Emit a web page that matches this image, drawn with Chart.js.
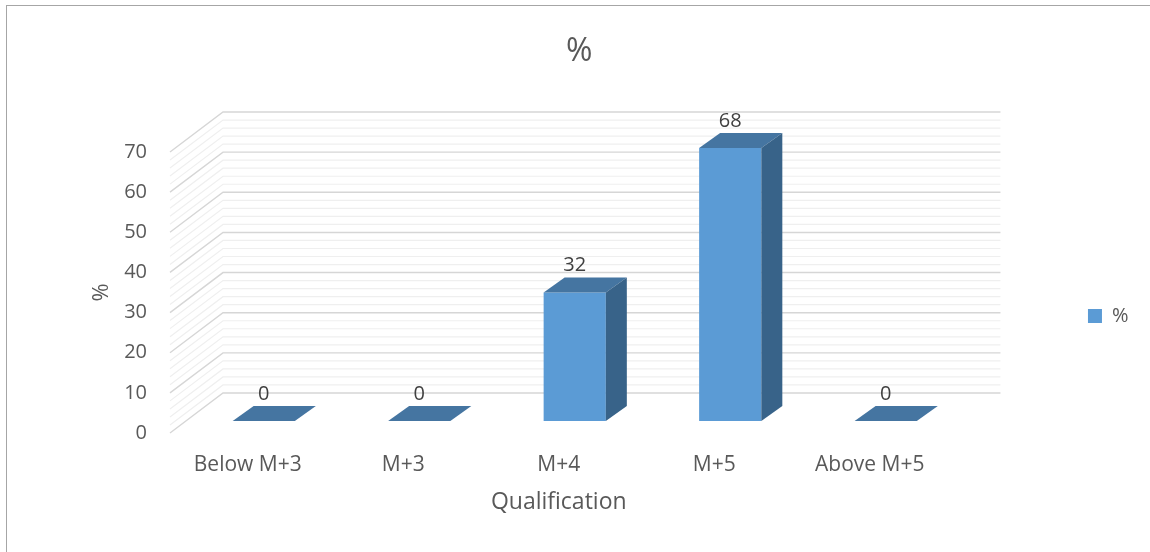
<!DOCTYPE html>
<html>
<head>
<meta charset="utf-8">
<title>Qualification</title>
<script src="https://cdn.jsdelivr.net/npm/chart.js@4.4.1/dist/chart.umd.min.js"></script>
<style>
  html, body { margin: 0; padding: 0; background: #fff; overflow: hidden; }
  #wrap { position: relative; width: 1150px; height: 552px; }
  #qualChart { position: absolute; left: 0; top: 0; }
  #frame {
    position: absolute; left: 6px; top: 5px; width: 1200px; height: 600px;
    border-top: 1.5px solid #a6a6a6; border-left: 1.5px solid #a6a6a6;
    pointer-events: none;
  }
</style>
</head>
<body>
<div id="wrap">
  <canvas id="qualChart" width="1150" height="552"></canvas>
  <div id="frame"></div>
</div>
<script>
const qualifications = ['Below M+3', 'M+3', 'M+4', 'M+5', 'Above M+5'];
const percentValues = [0, 0, 32, 68, 0];
const seriesName = '%';
const yMin = 0;
const yMax = 70;
const yStep = 10;
const yMinorStep = 2;

const FONT = "'Open Sans', 'DejaVu Sans', sans-serif";
const TEXT = '#595959';

// oblique projection of the 3D box
const WALL_DX = 53, WALL_DY = -40;    // back wall, from the axis plane
const BAR_DX = 16, BAR_DY = -12;      // row of bars, from the axis plane
const DEPTH_DX = 21, DEPTH_DY = -15;  // depth of one bar

const FRONT = '#5b9bd5';
const TOP = '#4575a1';
const SIDE = '#386389';

const box3d = {
  id: 'box3d',
  beforeDatasetsDraw(chart) {
    const { ctx, chartArea, scales } = chart;
    const y = scales.y;
    const left = chartArea.left;
    const right = chartArea.right;

    ctx.save();
    // minor lines first, major lines on top
    [false, true].forEach(major => {
      ctx.strokeStyle = major ? '#d6d6d6' : '#efefef';
      ctx.lineWidth = major ? 1.4 : 1.2;
      for (let v = yMin; v <= yMax; v += yMinorStep) {
        if ((v % yStep === 0) !== major) continue;
        const py = y.getPixelForValue(v);
        ctx.beginPath();
        ctx.moveTo(left, py);
        ctx.lineTo(left + WALL_DX, py + WALL_DY);
        ctx.lineTo(right + WALL_DX, py + WALL_DY);
        ctx.stroke();
      }
    });
    ctx.restore();

    // bars stand a little behind the axis plane
    ctx.save();
    ctx.translate(BAR_DX, BAR_DY);
  },
  afterDatasetsDraw(chart) {
    const { ctx } = chart;
    const meta = chart.getDatasetMeta(0);
    const values = chart.data.datasets[0].data;

    meta.data.forEach((bar, i) => {
      const { x, y, base, width } = bar.getProps(['x', 'y', 'base', 'width'], true);
      const l = x - width / 2;
      const r = x + width / 2;

      // top face
      ctx.fillStyle = TOP;
      ctx.beginPath();
      ctx.moveTo(l, y);
      ctx.lineTo(r, y);
      ctx.lineTo(r + DEPTH_DX, y + DEPTH_DY);
      ctx.lineTo(l + DEPTH_DX, y + DEPTH_DY);
      ctx.closePath();
      ctx.fill();

      // right side face
      if (base - y > 0.5) {
        ctx.fillStyle = SIDE;
        ctx.beginPath();
        ctx.moveTo(r, y);
        ctx.lineTo(r + DEPTH_DX, y + DEPTH_DY);
        ctx.lineTo(r + DEPTH_DX, base + DEPTH_DY);
        ctx.lineTo(r, base);
        ctx.closePath();
        ctx.fill();
      }

      // value label
      ctx.fillStyle = '#404040';
      ctx.font = '20px ' + FONT;
      ctx.textAlign = 'center';
      ctx.textBaseline = 'middle';
      ctx.fillText(String(values[i]), x, y + DEPTH_DY - 12);
    });

    ctx.restore();
  }
};

new Chart(document.getElementById('qualChart'), {
  type: 'bar',
  data: {
    labels: qualifications,
    datasets: [{
      label: seriesName,
      data: percentValues,
      backgroundColor: FRONT,
      borderWidth: 0,
      barPercentage: 0.4,
      categoryPercentage: 1,
      clip: false
    }]
  },
  options: {
    responsive: false,
    animation: false,
    layout: { padding: { left: 20, top: 0, bottom: 0, right: 11.5 } },
    plugins: {
      title: {
        display: true,
        text: '%',
        color: TEXT,
        font: { family: FONT, size: 32, weight: 'normal' },
        padding: { top: 33, bottom: 80.6 }
      },
      legend: {
        position: 'right',
        align: 'start',
        fullSize: false,
        title: { display: true, text: '', font: { size: 11.25 }, padding: 0 },
        labels: {
          color: TEXT,
          font: { family: FONT, size: 20 },
          boxWidth: 14,
          boxHeight: 14,
          padding: 140.5
        }
      },
      tooltip: { enabled: false }
    },
    scales: {
      x: {
        grid: { display: false, drawTicks: false },
        border: { display: false },
        ticks: {
          color: TEXT,
          font: { family: FONT, size: 21 },
          padding: 19.5
        },
        title: {
          display: true,
          text: 'Qualification',
          color: TEXT,
          font: { family: FONT, size: 23 },
          padding: { top: 0, bottom: 36.2 }
        },
        afterFit(scale) { scale.height = 119; }
      },
      y: {
        min: yMin,
        max: yMax,
        grid: { display: false, drawTicks: false },
        border: { display: false },
        ticks: {
          stepSize: yStep,
          color: TEXT,
          font: { family: FONT, size: 20 },
          padding: 23
        },
        title: {
          display: true,
          text: '%',
          color: TEXT,
          font: { family: FONT, size: 22 },
          padding: { top: 68.8, bottom: 0 }
        },
        afterFit(scale) { scale.width = 150; }
      }
    }
  },
  plugins: [box3d]
});
</script>
</body>
</html>
